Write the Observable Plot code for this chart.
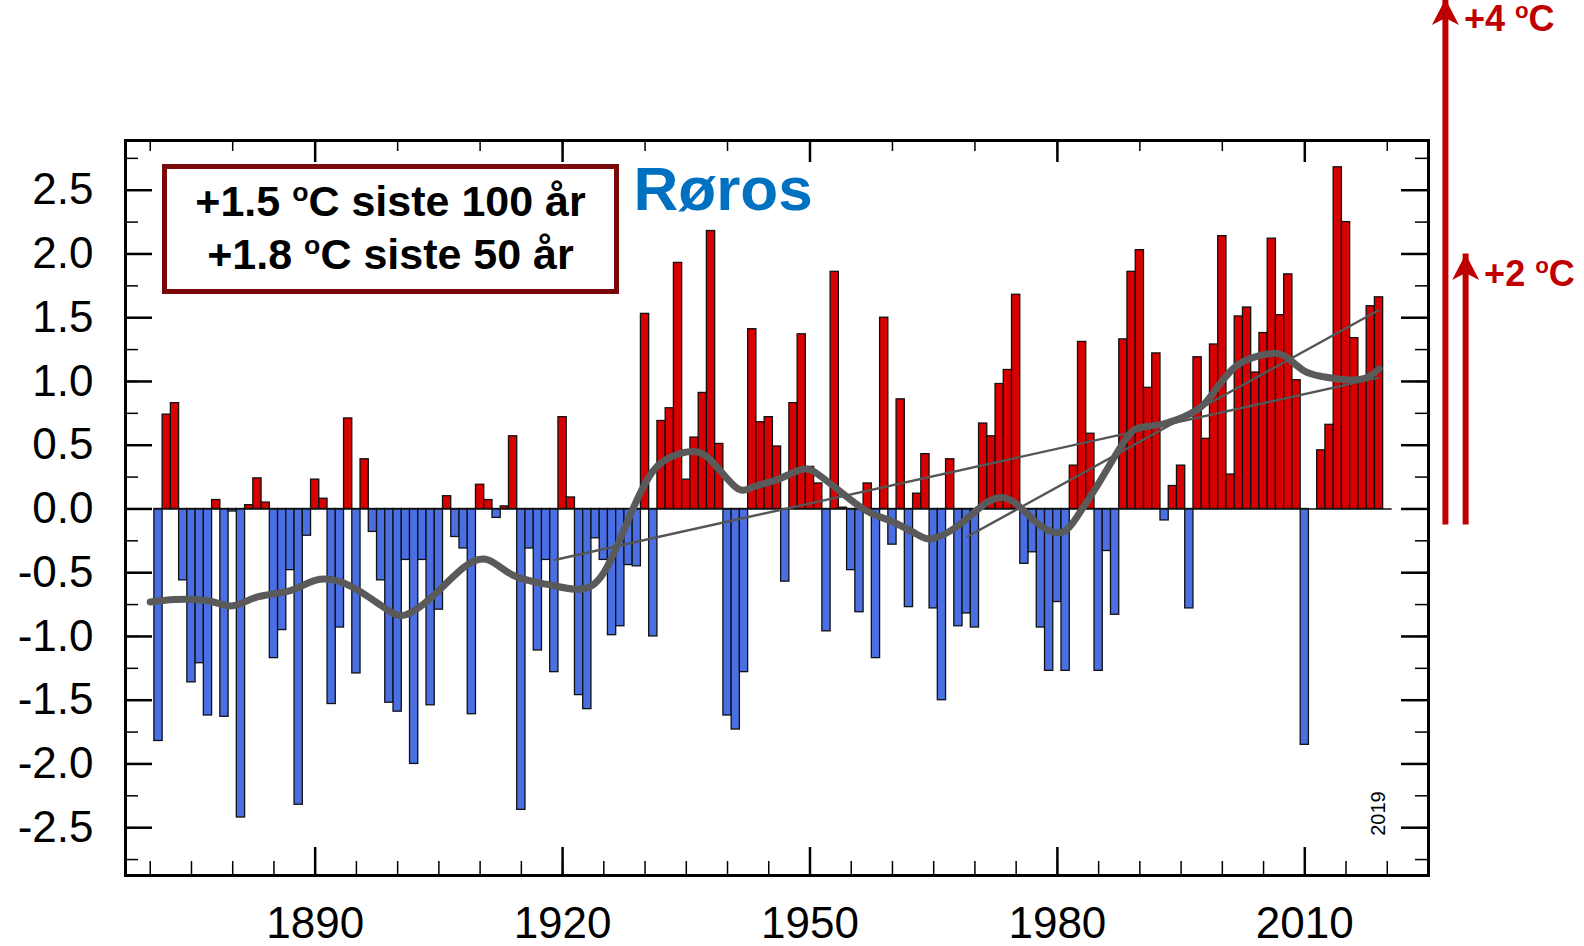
<!DOCTYPE html>
<html>
<head>
<meta charset="utf-8">
<script src="https://cdn.jsdelivr.net/npm/d3@7"></script>
<script src="https://cdn.jsdelivr.net/npm/@observablehq/plot@0.6"></script>
<style>
  html, body { margin: 0; padding: 0; background: #fff; overflow: hidden; }
  #wrap { position: relative; width: 1584px; height: 946px; }
  .note {
    position: absolute; box-sizing: border-box;
    border: 5.5px solid #7a0a0a; background: #fff; color: #000;
    font: bold 43px "Liberation Sans", Arial, sans-serif;
    text-align: center; line-height: 53px; padding-top: 6px; white-space: nowrap;
  }
  .note sup, .arrowlab sup { font-size: 0.62em; vertical-align: 0.58em; line-height: 0; }
  .arrowlab {
    position: absolute; white-space: nowrap; line-height: 1;
    font: bold 36px "Liberation Sans", Arial, sans-serif; color: #c00000;
    transform: translateY(-50%);
  }
</style>
</head>
<body>
<div id="wrap"></div>
<script>
// Røros: annual temperature anomaly (°C), 1871–2019
const station = "Røros";
const firstYear = 1871;
const anomalies = [
  -1.82, 0.74, 0.83, -0.56, -1.36, -1.21, -1.62, 0.07, -1.63, -0.02,   // 1871–1880
  -2.42, 0.03, 0.24, 0.05, -1.17, -0.95, -0.48, -2.32, -0.21, 0.23,    // 1881–1890
  0.08, -1.53, -0.93, 0.71, -1.29, 0.39, -0.18, -0.56, -1.52, -1.59,   // 1891–1900
  -0.40, -2.00, -0.40, -1.54, -0.79, 0.10, -0.22, -0.31, -1.61, 0.19,  // 1901–1910
  0.07, -0.07, 0.02, 0.57, -2.36, -0.31, -1.11, -0.40, -1.28, 0.72,    // 1911–1920
  0.09, -1.46, -1.57, -0.23, -0.40, -0.99, -0.92, -0.44, -0.45, 1.53,  // 1921–1930
  -1.00, 0.69, 0.79, 1.93, 0.23, 0.56, 0.91, 2.18, 0.51, -1.62,        // 1931–1940
  -1.73, -1.28, 1.41, 0.68, 0.72, 0.49, -0.57, 0.83, 1.37, 0.33,       // 1941–1950
  0.20, -0.96, 1.86, 0.01, -0.48, -0.81, 0.20, -1.17, 1.50, -0.28,     // 1951–1960
  0.86, -0.77, 0.12, 0.43, -0.78, -1.50, 0.39, -0.92, -0.82, -0.93,    // 1961–1970
  0.67, 0.57, 0.98, 1.09, 1.68, -0.43, -0.34, -0.93, -1.27, -0.73,     // 1971–1980
  -1.27, 0.34, 1.31, 0.59, -1.27, -0.33, -0.83, 1.33, 1.86, 2.03,      // 1981–1990
  0.95, 1.22, -0.09, 0.18, 0.34, -0.78, 1.19, 0.55, 1.29, 2.14,        // 1991–2000
  0.27, 1.51, 1.58, 1.07, 1.38, 2.12, 1.52, 1.84, 1.01, -1.85,         // 2001–2010
  null, 0.46, 0.66, 2.68, 2.25, 1.34, 1.02, 1.59, 1.66                 // 2011–2019
];
const years = d3.range(firstYear, firstYear + anomalies.length);
const lastYear = years[years.length - 1];

// Smoothed (low-pass filtered) curve
const smoothYears = [1870, 1873, 1877, 1880, 1883, 1887, 1890, 1893, 1896, 1899, 1901, 1904, 1908,
  1911, 1914, 1918, 1922, 1925, 1928, 1931, 1934, 1936, 1938, 1941, 1943, 1946, 1949, 1951, 1954,
  1957, 1960, 1963, 1965, 1968, 1971, 1974, 1977, 1979, 1981, 1983, 1985, 1988, 1990, 1993, 1997,
  1999, 2001, 2003, 2006, 2008, 2010, 2012, 2014, 2017, 2019];
const smoothValues = [-0.73, -0.71, -0.72, -0.76, -0.69, -0.64, -0.56, -0.57, -0.67, -0.80, -0.83, -0.70, -0.46,
  -0.40, -0.52, -0.59, -0.63, -0.50, -0.08, 0.30, 0.43, 0.45, 0.38, 0.17, 0.17, 0.23, 0.31, 0.27, 0.12,
  -0.02, -0.10, -0.20, -0.23, -0.13, 0.03, 0.08, -0.08, -0.17, -0.17, 0.00, 0.20, 0.52, 0.64, 0.67, 0.78,
  0.92, 1.08, 1.17, 1.22, 1.18, 1.08, 1.04, 1.02, 1.02, 1.10];

// Linear trends: last 100 years and last 50 years
const trendStartYear = [1919, 1969];
const trendEndYear = [2019, 2019];
const trendStartValue = [-0.40, -0.22];
const trendEndValue = [1.03, 1.56];

// Warming scenarios shown as arrows from zero
const scenarioValues = [4, 2];
const scenarioLabels = ["+4", "+2"];

// Axis ticks
const xLabelTicks = [1890, 1920, 1950, 1980, 2010];
const xMinorTicks = d3.range(1870, 2021, 5);
const xTopTicks = d3.range(1870, 2021, 10);
const yMajorTicks = [-2.5, -2.0, -1.5, -1.0, -0.5, 0.0, 0.5, 1.0, 1.5, 2.0, 2.5];
const yMinorTicks = d3.range(-2.75, 2.8, 0.25);

const noteLines = [["+1.5", "siste 100 år"], ["+1.8", "siste 50 år"]];

// ---- build tables ----
const bars = years.map((year, i) => ({year, value: anomalies[i]}));
const smooth = smoothYears.map((year, i) => ({year, value: smoothValues[i]}));
const trends = trendStartYear.map((_, i) => ({
  x1: trendStartYear[i], y1: trendStartValue[i], x2: trendEndYear[i], y2: trendEndValue[i]
}));
const scenarioX = [2027.05, 2029.5]; // horizontal placement of the arrows, right of the frame
const scenarios = scenarioValues.map((value, i) => ({value, x: scenarioX[i], label: scenarioLabels[i]}));

// ---- layout / style ----
const WIDTH = 1584, HEIGHT = 946;
const M = {top: 140, right: 156, bottom: 71, left: 125};
const innerW = WIDTH - M.left - M.right;
const innerH = HEIGHT - M.top - M.bottom;
const RED = "#d80000", BLUE = "#4a6fe3", ARROW = "#c00000";

const arrowHead = {
  draw(ctx) {
    ctx.moveTo(0, 0);
    ctx.lineTo(13.5, 26);
    ctx.lineTo(0, 19);
    ctx.lineTo(-13.5, 26);
    ctx.closePath();
  }
};

const chart = Plot.plot({
  width: WIDTH,
  height: HEIGHT,
  marginTop: M.top, marginRight: M.right, marginBottom: M.bottom, marginLeft: M.left,
  x: {domain: [1867, 2025], axis: null},
  y: {domain: [-2.875, 2.89], axis: null},
  style: {fontFamily: "'Liberation Sans', Arial, Helvetica, sans-serif", background: "white", color: "black", overflow: "visible"},
  marks: [
    Plot.rectY(bars, {
      x1: d => d.year - 0.5, x2: d => d.year + 0.5, y: "value",
      fill: d => d.value >= 0 ? RED : BLUE, stroke: "#111", strokeWidth: 1.3
    }),
    Plot.ruleY([0], {x1: years[0] - 0.5, x2: lastYear + 1.6, stroke: "#111", strokeWidth: 1.5}),
    Plot.link(trends, {x1: "x1", y1: "y1", x2: "x2", y2: "y2", stroke: "#555", strokeWidth: 2.4}),
    Plot.line(smooth, {x: "year", y: "value", curve: "natural", stroke: "#5a5a5a", strokeWidth: 7}),
    Plot.frame({stroke: "#000", strokeWidth: 3}),

    // inward ticks: bottom every 5 years, top every 10 years, longer at labelled years
    Plot.tickX(xMinorTicks, {x: d => d, insetTop: innerH - 14, stroke: "#000", strokeWidth: 1.5}),
    Plot.tickX(xLabelTicks, {x: d => d, insetTop: innerH - 28, stroke: "#000", strokeWidth: 2.5}),
    Plot.tickX(xTopTicks, {x: d => d, insetBottom: innerH - 11, stroke: "#000", strokeWidth: 1.5}),
    Plot.tickX(xLabelTicks, {x: d => d, insetBottom: innerH - 22, stroke: "#000", strokeWidth: 2.5}),
    // inward ticks on both vertical sides
    Plot.tickY(yMinorTicks, {y: d => d, insetRight: innerW - 13, stroke: "#000", strokeWidth: 1.5}),
    Plot.tickY(yMajorTicks, {y: d => d, insetRight: innerW - 27, stroke: "#000", strokeWidth: 2.5}),
    Plot.tickY(yMinorTicks, {y: d => d, insetLeft: innerW - 13, stroke: "#000", strokeWidth: 1.5}),
    Plot.tickY(yMajorTicks, {y: d => d, insetLeft: innerW - 27, stroke: "#000", strokeWidth: 2.5}),

    // tick labels
    Plot.text(xLabelTicks, {x: d => d, text: d => String(d), frameAnchor: "bottom", dy: 48,
      fontSize: 44, lineAnchor: "middle", fill: "#000"}),
    Plot.text(yMajorTicks, {y: d => d, text: d => d.toFixed(1), frameAnchor: "left", dx: -32,
      textAnchor: "end", fontSize: 44, lineAnchor: "middle", fill: "#000"}),

    // last year, written vertically in the lower right corner
    Plot.text([lastYear], {x: d => d, text: d => String(d), frameAnchor: "bottom", dy: -62,
      rotate: -90, fontSize: 20, lineAnchor: "middle", fill: "#000"}),

    // station name
    Plot.text([station], {frameAnchor: "top-left", dx: 508, dy: 50, fontSize: 62, fontWeight: "bold",
      fill: "#0070c0", textAnchor: "start", lineAnchor: "middle"}),

    // scenario arrows
    Plot.ruleX(scenarios, {x: "x", y1: 0, y2: "value", stroke: ARROW, strokeWidth: 6, insetTop: 16}),
    Plot.dot(scenarios, {x: "x", y: "value", symbol: arrowHead, r: 10, fill: ARROW, stroke: null})
  ]
});

const wrap = document.getElementById("wrap");
wrap.appendChild(chart);

// text box with the observed warming
const note = document.createElement("div");
note.className = "note";
Object.assign(note.style, {left: "162px", top: "164px", width: "457px", height: "130px"});
note.innerHTML = noteLines.map(([v, rest]) => `<div>${v} <sup>o</sup>C ${rest}</div>`).join("");
wrap.appendChild(note);

// arrow labels, placed next to the arrow tips
const sx = chart.scale("x"), sy = chart.scale("y");
for (const s of scenarios) {
  const lab = document.createElement("div");
  lab.className = "arrowlab";
  lab.innerHTML = `${s.label} <sup>o</sup>C`;
  lab.style.left = (sx.apply(s.x) + 19) + "px";
  lab.style.top = (sy.apply(s.value) + 21) + "px";
  wrap.appendChild(lab);
}
</script>
</body>
</html>
